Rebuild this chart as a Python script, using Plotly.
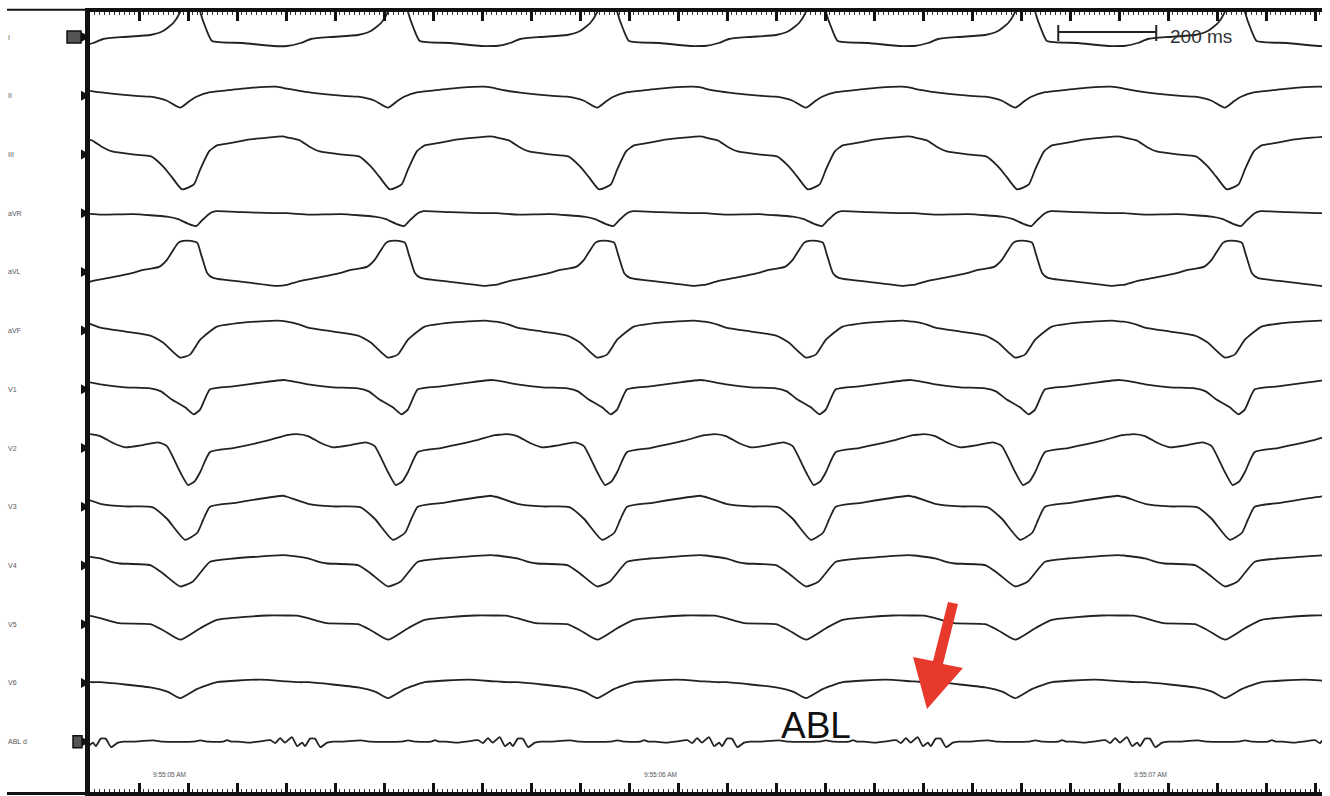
import numpy as np
import plotly.graph_objects as go

# ---------------- data ----------------
LEADS = ["I", "II", "III", "aVR", "aVL", "aVF", "V1", "V2", "V3", "V4", "V5", "V6", "ABL d"]

# QRS reference instants (ms from left edge of the strip), incl. partial beats at both edges
BEAT_TIMES_MS = [-237, 190, 614, 1041, 1467, 1894, 2322, 2749]

# one-beat waveform per lead: time offset from QRS reference (ms) and amplitude (a.u.)
I_T = [-212, -184, -163, -122, -67, -41, -20, -6, 8, 27, 35, 47, 59, 122, 184, 212]
I_V = [-9, -6, -2, 0, 2, 6, 14, 25, 45, 45, 25, 8, -4, -6, -9, -9]

II_T = [-212, -163, -102, -67, -33, -6, 14, 27, 55, 92, 143, 190, 212]
II_V = [7, 3, 0, -1, -5, -12, -5, -1, 3.5, 5.5, 8, 9, 7.5]

III_T = [-212, -186, -167, -145, -102, -65, -41, -24, -2, 22, 35, 53, 69, 92, 137, 204, 212]
III_V = [17, 14, 8, 3, 0, -2, -12, -22, -35, -30, -15, 3, 9, 11, 15, 18, 17.5]

AVR_T = [-212, -167, -102, -33, -10, 12, 27, 39, 55, 67, 122, 184, 212]
AVR_V = [0, -1.5, -1, -3.5, -6, -11, -13, -7, 0, 2, 1, 0, 0]

AVL_T = [-212, -184, -151, -102, -82, -49, -33, -20, -10, 0, 16, 29, 37, 49, 61, 122, 192, 212]
AVL_V = [-13, -9, -6, -1, 2, 5, 12, 22, 29, 31, 31, 29, 17, -1, -6, -10, -14, -13]

AVF_T = [-212, -186, -169, -118, -67, -41, -6, 14, 35, 69, 122, 192, 212]
AVF_V = [9, 6, 3, -1, -5, -12, -27, -24, -9, 4, 8, 10, 9]

V1_T = [-212, -169, -118, -67, -45, -24, 4, 22, 35, 55, 102, 163, 204, 212]
V1_V = [9, 5, 2, 1, -2, -10, -18, -25, -20, 0, 3, 7, 9.3, 9]

V2_T = [-212, -192, -169, -143, -118, -82, -51, -33, -6, 10, 24, 35, 55, 102, 171, 212]
V2_V = [13, 14, 12, 5, 0.7, 3, 5.7, 2, -24, -37, -33, -24, -4, 0, 7.3, 13]

V3_T = [-212, -169, -118, -63, -33, 4, 29, 41, 55, 102, 204, 212]
V3_V = [10, 3, 0.3, -0.3, -12, -33, -26, -13, 0, 3.7, 11, 10]

V4_T = [-212, -169, -143, -129, -67, -41, -6, 20, 55, 102, 204, 212]
V4_V = [10, 7, 3, 2, 0.3, -8, -21, -16, 3.7, 7, 10.3, 10]

V5_T = [-212, -192, -169, -131, -67, -41, -6, 35, 69, 171, 212]
V5_V = [8.7, 8.5, 6, 1, 0, -6, -15.5, -4, 4.3, 8.7, 8.7]

V6_T = [-212, -186, -169, -67, -31, -6, 29, 69, 157, 212]
V6_V = [1.5, 0.7, 0.7, -4.5, -9, -15.3, -6, 0.7, 3.3, 1.5]

ABL_T = [-110, -100, -61, -41, 20, 35, 51, 82, 90, 98, 112, 137, 153, 178, 188, 198,
         208, 222, 233, 243, 249, 259, 269, 280, 294, 306, 325, 335]
ABL_V = [0, 0, 1.2, 0, 0, 1.2, 0, 0, 1.5, 0, 0, -1, 0, 1.5, -1.5, 3.5,
         -1, 4.5, -4.5, -1, -4.5, 3, 3, -5.5, -1, 0, 0, 0]

TEMPLATES = [(I_T, I_V), (II_T, II_V), (III_T, III_V), (AVR_T, AVR_V), (AVL_T, AVL_V),
             (AVF_T, AVF_V), (V1_T, V1_V), (V2_T, V2_V), (V3_T, V3_V), (V4_T, V4_V),
             (V5_T, V5_V), (V6_T, V6_V), (ABL_T, ABL_V)]
WINDOW_CENTER_MS = [0] * 12 + [112]

TIME_LABELS = ["9:55:05 AM", "9:55:06 AM", "9:55:07 AM"]
TIME_LABEL_MS = [163, 1165, 2165]

SCALE_BAR_MS = 200
SCALE_BAR_START_MS = 1976
SCALE_BAR_TEXT = "200 ms"

# ---------------- geometry ----------------
W, H = 1330, 796
ML, MR, MT, MB = 90, 8, 12, 4
PW, PH = W - ML - MR, H - MT - MB
MS_PER_PX = 1 / 0.49
X_MAX = PW * MS_PER_PX
ROW0, ROW_STEP = 25, 58.72


def px_x(x):
    return (x - ML) * MS_PER_PX


def px_y(y):
    return -(y - MT)


def paper_x(x):
    return (x - ML) / PW


def assemble(tt, vv, center):
    tt = np.asarray(tt, float)
    vv = np.asarray(vv, float)
    xs, ys = [], []
    B = BEAT_TIMES_MS
    for k, T in enumerate(B):
        lo = -np.inf if k == 0 else (B[k - 1] + T) / 2 - T
        hi = np.inf if k == len(B) - 1 else (B[k + 1] + T) / 2 - T
        m = (tt >= lo + center) & (tt < hi + center)
        xs.extend((T + tt[m]).tolist())
        ys.extend(vv[m].tolist())
    return xs, ys


fig = go.Figure()
offsets = [-(ROW0 + ROW_STEP * i) for i in range(len(LEADS))]

for i, (name, (tt, vv)) in enumerate(zip(LEADS, TEMPLATES)):
    xs, ys = assemble(tt, vv, WINDOW_CENTER_MS[i])
    fig.add_trace(go.Scatter(
        x=xs, y=[offsets[i] + v for v in ys], mode="lines", name=name,
        line=dict(color="#222222", width=1.8, shape="spline", smoothing=0.5),
        showlegend=False, hoverinfo="skip"))

annotations = []
for i, name in enumerate(LEADS):
    annotations.append(dict(x=paper_x(6), y=offsets[i], xref="paper", yref="y", text=name,
                            showarrow=False, xanchor="left", yanchor="middle",
                            font=dict(size=7, color="#555555", family="Arial")))
for lab, t in zip(TIME_LABELS, TIME_LABEL_MS):
    annotations.append(dict(x=t, y=px_y(774), xref="x", yref="y", text=lab, showarrow=False,
                            xanchor="center", yanchor="middle",
                            font=dict(size=6.5, color="#555555", family="Arial")))
annotations.append(dict(x=px_x(1168), y=px_y(36), xref="x", yref="y", text=SCALE_BAR_TEXT,
                        showarrow=False, xanchor="left", yanchor="middle",
                        font=dict(size=19, color="#333333", family="Arial")))
annotations.append(dict(x=px_x(816), y=px_y(725), xref="x", yref="y", text="ABL",
                        showarrow=False, xanchor="center", yanchor="middle",
                        font=dict(size=37, color="#111111", family="Arial")))

shapes = []
# channel markers on the left border
for off in offsets:
    shapes.append(dict(type="path", xref="paper", yref="y",
                       path=f"M {paper_x(81):.5f},{off + 5} L {paper_x(90):.5f},{off} L {paper_x(81):.5f},{off - 5} Z",
                       fillcolor="#111111", line=dict(width=0), layer="above"))
for off, (xa, xb) in ((offsets[0], (67, 81)), (offsets[-1], (73, 82))):
    shapes.append(dict(type="rect", xref="paper", yref="y", x0=paper_x(xa), x1=paper_x(xb),
                       y0=off - 6, y1=off + 6, fillcolor="#555555",
                       line=dict(color="#111111", width=1.5), layer="above"))
# scale bar
ys_bar = px_y(32)
shapes.append(dict(type="line", xref="x", yref="y", x0=SCALE_BAR_START_MS, x1=SCALE_BAR_START_MS + SCALE_BAR_MS,
                   y0=ys_bar, y1=ys_bar, line=dict(color="#222222", width=2)))
for xb in (SCALE_BAR_START_MS, SCALE_BAR_START_MS + SCALE_BAR_MS):
    shapes.append(dict(type="line", xref="x", yref="y", x0=xb, x1=xb, y0=px_y(25), y1=px_y(41),
                       line=dict(color="#222222", width=2)))
# frame lines extending to the left
shapes.append(dict(type="line", xref="paper", yref="paper", x0=paper_x(7), x1=0, y0=1.003, y1=1.003,
                   line=dict(color="#111111", width=2)))
shapes.append(dict(type="line", xref="paper", yref="paper", x0=paper_x(7), x1=0, y0=-0.002, y1=-0.002,
                   line=dict(color="#111111", width=3)))
# red arrow
arrow_px = [(948, 602), (958, 604), (943, 664), (963, 668), (927, 709), (913, 657), (933, 661)]
path = "M " + " L ".join(f"{px_x(x):.1f},{px_y(y):.1f}" for x, y in arrow_px) + " Z"
shapes.append(dict(type="path", xref="x", yref="y", path=path, fillcolor="#e8392d",
                   line=dict(width=0), layer="above"))

fig.update_layout(
    width=W, height=H, margin=dict(l=ML, r=MR, t=MT, b=MB),
    paper_bgcolor="white", plot_bgcolor="white",
    annotations=annotations, shapes=shapes,
    xaxis=dict(range=[0, X_MAX], showgrid=False, zeroline=False, showticklabels=False,
               showline=True, linewidth=3.5, linecolor="#111111", mirror="allticks",
               ticks="inside", tick0=0, dtick=100, ticklen=9, tickwidth=3, tickcolor="#111111",
               minor=dict(ticks="inside", dtick=10, ticklen=3, tickwidth=1, tickcolor="#333333")),
    yaxis=dict(range=[-PH, 0], showgrid=False, zeroline=False, showticklabels=False,
               showline=True, linewidth=4.5, linecolor="#111111", ticks=""),
)

fig.write_html("out.html", config={"displayModeBar": False},
               post_script="document.body.style.margin='0px';document.body.style.padding='0px';")
